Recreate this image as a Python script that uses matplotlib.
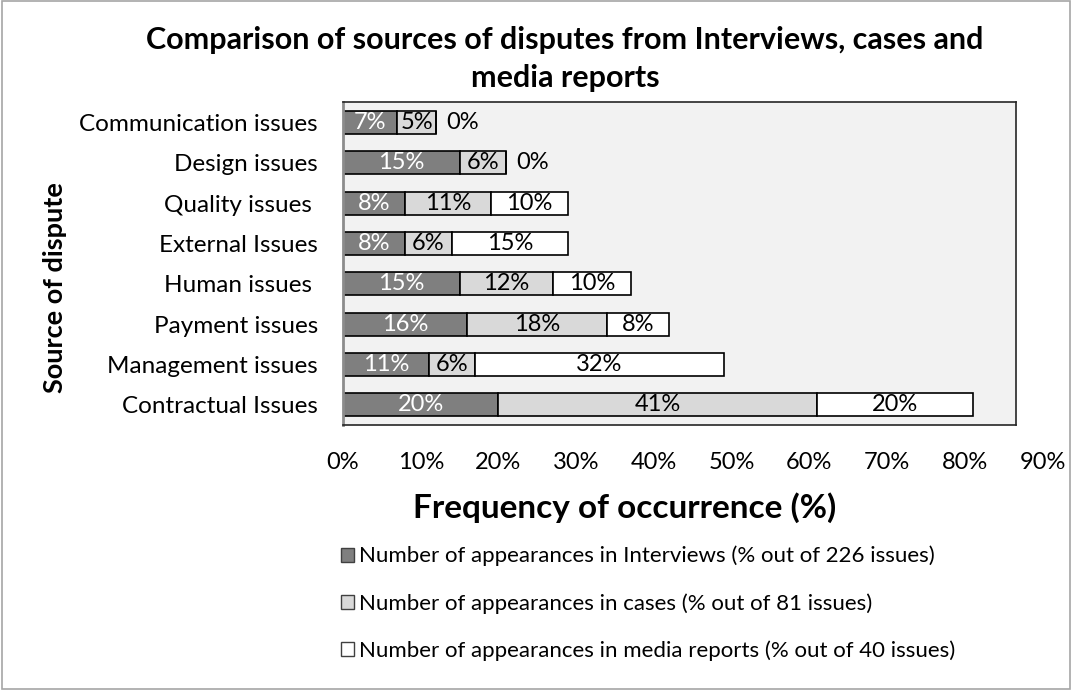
import matplotlib

matplotlib.use("Agg")
import matplotlib.pyplot as plt
from matplotlib.patches import Patch, Rectangle

plt.rcParams["font.family"] = ["Lato", "DejaVu Sans"]

# --- data (bottom -> top) ------------------------------------------------------
CATEGORIES = [
    "Contractual Issues",
    "Management issues",
    "Payment issues",
    "Human issues ",
    "External Issues",
    "Quality issues ",
    "Design issues",
    "Communication issues",
]
INTERVIEWS = [20, 11, 16, 15, 8, 8, 15, 7]
CASES = [41, 6, 18, 12, 6, 11, 6, 5]
MEDIA = [20, 32, 8, 10, 15, 10, 0, 0]

SERIES_LABELS = [
    "Number of appearances in Interviews (% out of 226 issues)",
    "Number of appearances in cases (% out of 81 issues)",
    "Number of appearances in media reports (% out of 40 issues)",
]
XTICKS = [0, 10, 20, 30, 40, 50, 60, 70, 80, 90]

# --- styling -------------------------------------------------------------------
FILLS = ["#7f7f7f", "#d9d9d9", "#ffffff"]
TEXT_COLORS = ["white", "black", "black"]
PLOT_BG = "#f2f2f2"
FS = 17


def main():
    fig = plt.figure(figsize=(10.72, 6.9), dpi=100)
    fig.patches.append(Rectangle((0.002, 0.002), 0.996, 0.996, transform=fig.transFigure,
                                 fill=False, edgecolor="#a6a6a6", lw=1.2))

    ax = fig.add_axes([0.32, 0.384, 0.6278, 0.468])
    ax.set_facecolor(PLOT_BG)
    ax.set_xlim(0, 86.6)
    ax.set_ylim(-0.5, len(CATEGORIES) - 0.5)

    y = list(range(len(CATEGORIES)))
    left = [0] * len(CATEGORIES)
    for vals, fill, tc in zip([INTERVIEWS, CASES, MEDIA], FILLS, TEXT_COLORS):
        ax.barh(y, vals, left=left, height=0.57, color=fill,
                edgecolor="black", linewidth=1.2, zorder=2)
        for yi, l, v in zip(y, left, vals):
            if v > 0:
                ax.text(l + v / 2, yi, f"{v}%", ha="center", va="center",
                        fontsize=FS, color=tc, zorder=3)
            else:
                ax.text(l + 1.3, yi, f"{v}%", ha="left", va="center",
                        fontsize=FS, color="black", zorder=3)
        left = [a + b for a, b in zip(left, vals)]

    ax.set_yticks(y)
    ax.set_yticklabels(CATEGORIES, fontsize=17.5)
    ax.tick_params(axis="y", length=0, pad=18)
    ax.set_xticks([])

    # x tick labels drawn as text (axis runs past plot area in the original)
    for t in XTICKS:
        ax.text(t, -0.115, f"{t}%", transform=ax.get_xaxis_transform(),
                ha="center", va="center", fontsize=FS, clip_on=False)

    for s in ["top", "right", "bottom"]:
        ax.spines[s].set_color("#262626")
        ax.spines[s].set_linewidth(1.2)
    ax.spines["left"].set_color("#8c8c8c")
    ax.spines["left"].set_linewidth(2)

    fig.text(0.527, 0.942, "Comparison of sources of disputes from Interviews, cases and",
             ha="center", va="center", fontsize=22, fontweight="bold")
    fig.text(0.527, 0.887, "media reports",
             ha="center", va="center", fontsize=22, fontweight="bold")
    fig.text(0.5825, 1 - 508 / 690, "Frequency of occurrence (%)",
             ha="center", va="center", fontsize=24, fontweight="bold")
    fig.text(55 / 1072, 1 - 288 / 690, "Source of dispute", rotation=90,
             ha="center", va="center", fontsize=19.5, fontweight="bold")

    handles = [Patch(facecolor=f, edgecolor="#404040", linewidth=1.0) for f in FILLS]
    fig.legend(handles, SERIES_LABELS, loc="upper left",
               bbox_to_anchor=(332 / 1072, 1 - 537 / 690), frameon=False,
               fontsize=16, handlelength=0.6, handleheight=0.6, handletextpad=0.2,
               labelspacing=1.2, borderaxespad=0)

    fig.savefig("out.png", dpi=100, facecolor="white")
    plt.close(fig)


if __name__ == "__main__":
    main()
